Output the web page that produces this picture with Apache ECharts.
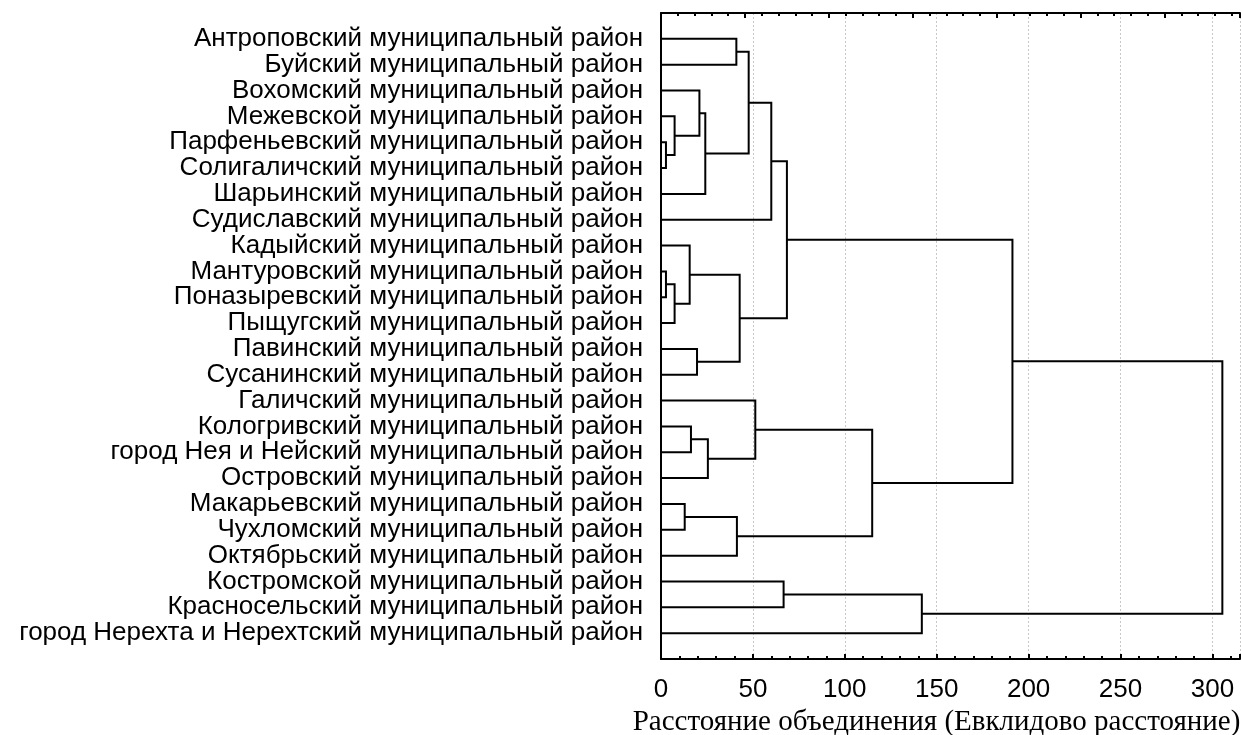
<!DOCTYPE html>
<html>
<head>
<meta charset="utf-8">
<script src="https://cdn.jsdelivr.net/npm/echarts@6/dist/echarts.min.js"></script>
<style>
html,body{margin:0;padding:0;background:#fff;}
#chart{width:1241px;height:735px;}
</style>
</head>
<body>
<div id="chart"></div>
<script>
// Leaves (rows, top to bottom)
var labels = [
  'Антроповский муниципальный район',
  'Буйский муниципальный район',
  'Вохомский муниципальный район',
  'Межевской муниципальный район',
  'Парфеньевский муниципальный район',
  'Солигаличский муниципальный район',
  'Шарьинский муниципальный район',
  'Судиславский муниципальный район',
  'Кадыйский муниципальный район',
  'Мантуровский муниципальный район',
  'Поназыревский муниципальный район',
  'Пыщугский муниципальный район',
  'Павинский муниципальный район',
  'Сусанинский муниципальный район',
  'Галичский муниципальный район',
  'Кологривский муниципальный район',
  'город Нея и Нейский муниципальный район',
  'Островский муниципальный район',
  'Макарьевский муниципальный район',
  'Чухломский муниципальный район',
  'Октябрьский муниципальный район',
  'Костромской муниципальный район',
  'Красносельский муниципальный район',
  'город Нерехта и Нерехтский муниципальный район'
];
// Linkage: new cluster ids start at 24, in this order
var mergeLeft   = [4, 9, 3, 25, 18, 8, 15, 12, 2, 32, 30, 0, 28, 29, 35, 14, 38, 21, 40, 39, 41, 42, 45];
var mergeRight  = [5, 10, 24, 11, 19, 27, 16, 13, 26, 6, 17, 1, 20, 31, 33, 34, 7, 22, 37, 36, 23, 43, 44];
var mergeHeight = [2.7, 2.7, 7.4, 7.4, 12.9, 15.6, 16.3, 19.6, 20.9, 24.1, 25.5, 41.0, 41.3, 42.8, 47.7, 51.3, 60.0, 66.7, 68.5, 114.9, 141.9, 191.2, 305.4];
var xTicks = [0, 50, 100, 150, 200, 250, 300];
var xTitle = 'Расстояние объединения (Евклидово расстояние)';

// build dendrogram links from the linkage
var nLeaves = labels.length;
var pos = [], hgt = [];
for (var i = 0; i < nLeaves; i++) { pos[i] = i; hgt[i] = 0; }
var links = [];
for (var k = 0; k < mergeLeft.length; k++) {
  var a = mergeLeft[k], b = mergeRight[k], h = mergeHeight[k];
  links.push([hgt[a], pos[a], h, pos[b], hgt[b]]);
  var id = nLeaves + k;
  pos[id] = (pos[a] + pos[b]) / 2;
  hgt[id] = h;
}

var chart = echarts.init(document.getElementById('chart'), null, {renderer: 'canvas'});
var sans = 'Liberation Sans, Arial, sans-serif';
chart.setOption({
  animation: false,
  backgroundColor: '#ffffff',
  grid: {left: 661, top: 13, width: 579, height: 646, containLabel: false, outerBoundsMode: 'none'},
  xAxis: [{
    type: 'value', position: 'bottom', min: 0, max: 315, interval: 50,
    axisLine: {show: true, onZero: false, lineStyle: {color: '#000', width: 2}},
    axisTick: {show: true, inside: true, length: 5, lineStyle: {color: '#000', width: 2}},
    minorTick: {show: true, splitNumber: 5, length: 3, lineStyle: {color: '#000', width: 2}},
    axisLabel: {
      color: '#000', fontFamily: sans, fontSize: 26, margin: 18,
      formatter: function (v) { return xTicks.indexOf(v) >= 0 ? String(v) : ''; }
    },
    splitLine: {show: true, lineStyle: {color: '#c8c8c8', type: [2, 2], width: 1}},
    name: xTitle, nameLocation: 'middle', nameGap: 45,
    nameTextStyle: {color: '#000', fontFamily: 'Liberation Serif, Times New Roman, serif', fontSize: 29, padding: [0, 28, 0, 0]}
  }, {
    type: 'value', position: 'top', min: 0, max: 345, interval: 50,
    axisLine: {show: true, onZero: false, lineStyle: {color: '#000', width: 2}},
    axisTick: {show: true, inside: true, length: 5, lineStyle: {color: '#000', width: 2}},
    minorTick: {show: true, splitNumber: 5, length: 3, lineStyle: {color: '#000', width: 2}},
    axisLabel: {show: false},
    splitLine: {show: false}
  }],
  yAxis: {
    type: 'value', inverse: true, min: -1, max: 24, interval: 1,
    axisLine: {show: true, onZero: false, lineStyle: {color: '#000', width: 2}},
    axisTick: {show: false},
    splitLine: {show: false},
    axisLabel: {
      color: '#000', fontFamily: sans, fontSize: 26, margin: 18, align: 'right',
      formatter: function (v) { return (v >= 0 && v < labels.length && v === Math.round(v)) ? labels[v] : ''; }
    }
  },
  series: [{
    type: 'custom',
    xAxisIndex: 0, yAxisIndex: 0,
    clip: false,
    data: links,
    encode: {x: [0, 2, 4], y: [1, 3]},
    renderItem: function (params, api) {
      var p1 = api.coord([api.value(0), api.value(1)]);
      var p2 = api.coord([api.value(2), api.value(1)]);
      var p3 = api.coord([api.value(2), api.value(3)]);
      var p4 = api.coord([api.value(4), api.value(3)]);
      return {
        type: 'polyline',
        shape: {points: [p1, p2, p3, p4]},
        style: {stroke: '#000', lineWidth: 2, fill: null}
      };
    }
  }]
});
</script>
</body>
</html>
